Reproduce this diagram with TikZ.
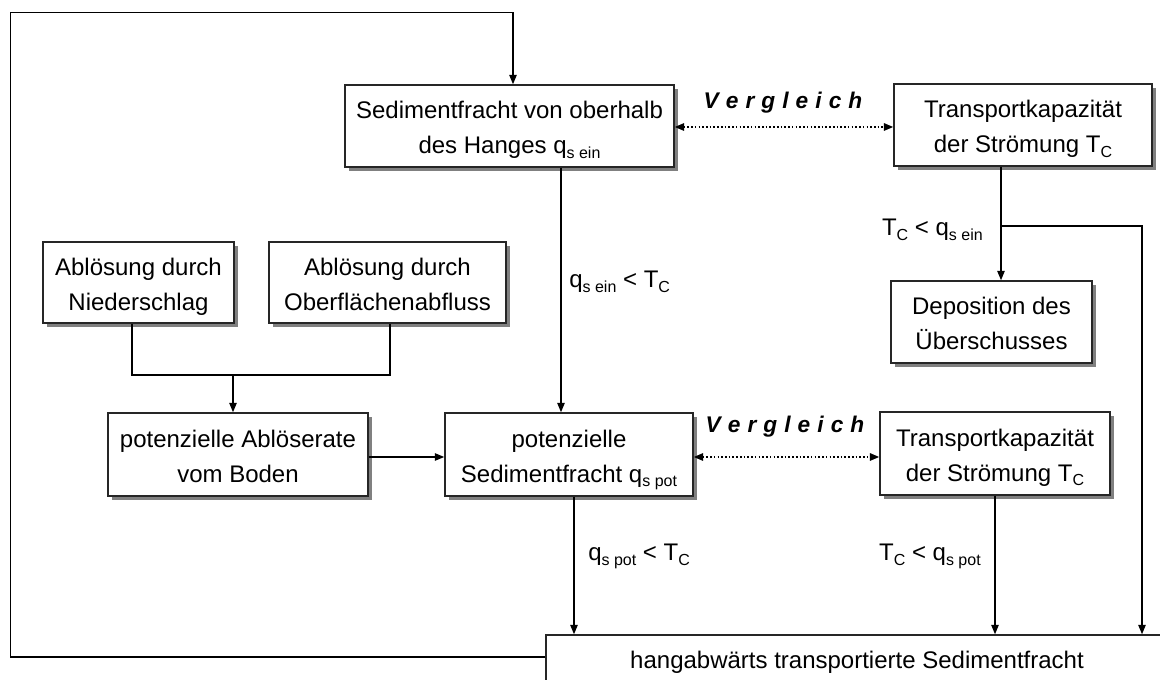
\documentclass[tikz,border=0pt]{standalone}
\usepackage{fontspec}
\setmainfont{Liberation Sans}
\usetikzlibrary{arrows.meta}
\newcommand\sbs[1]{\raisebox{-3.5pt}[0pt][0pt]{\fontsize{12}{12}\selectfont #1}}
\newcommand\tls{\rule{0pt}{19.5pt}}
\newcommand\bls{\rule[-4pt]{0pt}{0pt}}
\tikzset{
  box/.style={draw=black!85, line width=1.1pt, fill=white, align=center, inner sep=0pt,
    font=\fontsize{18}{26.25}\selectfont,
    preaction={draw=none, fill=black!50, transform canvas={shift={(2.8pt,-2.8pt)}}}},
  conn/.style={line width=1pt, black},
  arr/.style={conn, -{Triangle[length=7pt,width=5.5pt]}},
  cmp/.style={line width=1.4pt, black, dash pattern=on 1.2pt off 1.6pt,
    {Triangle[length=7pt,width=5.5pt]}-{Triangle[length=7pt,width=5.5pt]}},
  lbl/.style={inner sep=0pt, font=\fontsize{18}{22}\selectfont},
  vgl/.style={inner sep=0pt, font=\fontsize{17}{20}\selectfont\bfseries\itshape}
}
\begin{document}
\begin{tikzpicture}[x=0.75pt,y=-0.75pt]
\useasboundingbox (0,0) rectangle (1160,680);
\clip (0,0) rectangle (1160,680);
\fill[white] (0,0) rectangle (1160,680);

% boxes
\node[box, minimum width=246.75pt, minimum height=61.5pt] (A) at (509.5,126)
  {\tls Sedimentfracht von oberhalb\\des Hanges q\sbs{s ein}\bls};
\node[box, minimum width=193.5pt, minimum height=61.5pt] (B) at (1023,125)
  {\tls Transportkapazität\\der Strömung T\sbs{C}\bls};
\node[box, minimum width=150.75pt, minimum height=61.5pt] (D) at (991.5,322)
  {\tls Deposition des\\Überschusses\bls};
\node[box, minimum width=143.25pt, minimum height=60.75pt] (G1) at (138.5,282.5)
  {\tls Ablösung durch\\Niederschlag\bls};
\node[box, minimum width=177.75pt, minimum height=60.75pt] (G2) at (387.5,282.5)
  {\tls Ablösung durch\\Oberflächenabfluss\bls};
\node[box, minimum width=195pt, minimum height=62.25pt] (H) at (238,454.5)
  {\tls potenzielle Ablöserate\\vom Boden\bls};
\node[box, minimum width=186pt, minimum height=62.25pt] (E) at (569,454.5)
  {\tls potenzielle\\Sedimentfracht q\sbs{s pot}\bls};
\node[box, minimum width=172.5pt, minimum height=62.25pt] (C) at (995,453.5)
  {\tls Transportkapazität\\der Strömung T\sbs{C}\bls};
\node[box, minimum width=466.5pt, minimum height=40.5pt] (F) at (857,662)
  {hangabwärts transportierte Sedimentfracht};

% helper coordinates
\coordinate (xAE) at (561,0);
\coordinate (xBD) at (1001,0);
\coordinate (jB) at (1001,226);
\coordinate (jR) at (1142,226);
\coordinate (xEF) at (574,0);
\coordinate (xCF) at (995,0);
\coordinate (xG1) at (132,0);
\coordinate (xG2) at (390,0);
\coordinate (jG1) at (132,375);
\coordinate (jG2) at (390,375);
\coordinate (jG) at (233,375);
\coordinate (yAB) at (0,127);
\coordinate (yEC) at (0,457);
\coordinate (fb1) at (10.5,657);
\coordinate (fb2) at (10.5,12.5);
\coordinate (fb3) at (513,12.5);

% feedback loop
\draw[arr] (F.west |- fb1) -- (fb1) -- (fb2) -- (fb3) -- (A.north -| fb3);

% A -> E
\draw[arr] (A.south -| xAE) -- (E.north -| xAE);
% B -> D and branch to F
\draw[arr] (B.south -| xBD) -- (D.north -| xBD);
\draw[arr] (jB) -- (jR) -- (F.north -| jR);
% G1, G2 -> H
\draw[conn] (G1.south -| xG1) -- (jG1) -- (jG2) -- (G2.south -| xG2);
\draw[arr] (jG) -- (H.north -| jG);
% H -> E
\draw[arr] (H.east |- yEC) -- (E.west |- yEC);
% E -> F, C -> F
\draw[arr] (E.south -| xEF) -- (F.north -| xEF);
\draw[arr] (C.south -| xCF) -- (F.north -| xCF);

% comparisons
\draw[cmp] (A.east |- yAB) -- (B.west |- yAB);
\draw[cmp] (E.east |- yEC) -- (C.west |- yEC);
\node[vgl] (v1) at (783,103) {V\kern5.3pt e\kern5.3pt r\kern5.3pt g\kern5.3pt l\kern5.3pt e\kern5.3pt i\kern5.3pt c\kern5.3pt h};
\node[vgl] (v2) at (785,427) {V\kern5.3pt e\kern5.3pt r\kern5.3pt g\kern5.3pt l\kern5.3pt e\kern5.3pt i\kern5.3pt c\kern5.3pt h};

% condition labels
\node[lbl, anchor=west] (l1) at (569,282) {q\sbs{s ein} < T\sbs{C}};
\node[lbl, anchor=east] (l2) at (983,230) {T\sbs{C} < q\sbs{s ein}};
\node[lbl, anchor=west] (l3) at (588,555) {q\sbs{s pot} < T\sbs{C}};
\node[lbl, anchor=east] (l4) at (981,555) {T\sbs{C} < q\sbs{s pot}};
\end{tikzpicture}
\end{document}
